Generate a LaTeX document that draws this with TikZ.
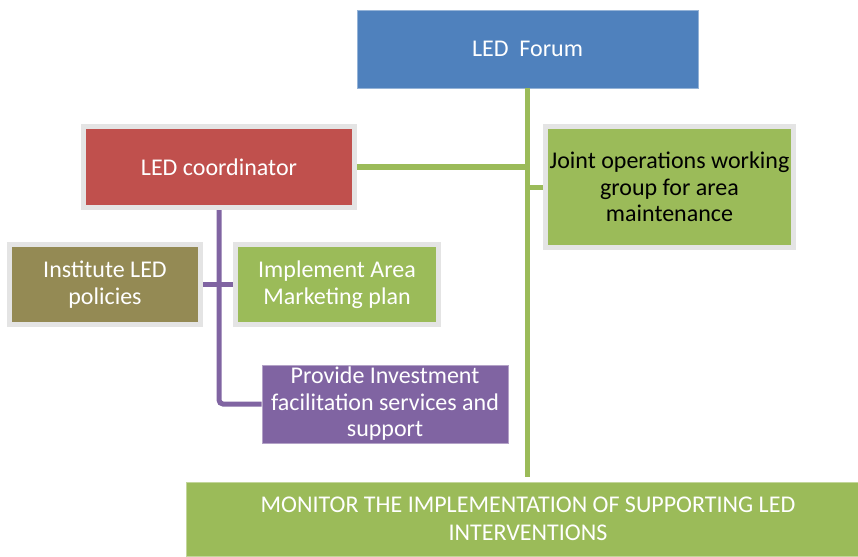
\documentclass[tikz,border=0pt]{standalone}
\usepackage{fontspec}
\setmainfont{Carlito}
\usepackage{tikz}
\usetikzlibrary{positioning}
\definecolor{ledblue}{HTML}{4F81BD}
\definecolor{ledred}{HTML}{C0504D}
\definecolor{ledgreen}{HTML}{9BBB59}
\definecolor{ledolive}{HTML}{948A54}
\definecolor{ledpurple}{HTML}{8064A2}
\definecolor{framegray}{HTML}{E4E4E4}
\begin{document}
\begin{tikzpicture}[x=1pt,y=-1pt,
 box/.style={fill=#1,draw=framegray,line width=5pt,align=center,
             text=white,inner sep=2pt,font=\fontsize{24}{26.5}\selectfont},
 plain/.style={fill=#1,draw=#1!60!white,line width=0.8pt,align=center,
             text=white,inner sep=2pt,font=\fontsize{24}{26.5}\selectfont},
 greenline/.style={draw=ledgreen,line width=5pt},
 purpleline/.style={draw=ledpurple,line width=5pt}]
 \useasboundingbox (0,0) rectangle (858,556);
 \node[plain=ledblue,minimum width=341pt,minimum height=78pt] (forum) at (527.5,49)
   {LED\ \ Forum};
 \node[box=ledred,minimum width=271pt,minimum height=81pt] (coord) at (219,167)
   {LED coordinator};
 \node[box=ledgreen,text=black,minimum width=248pt,minimum height=121pt] (joint) at (669.5,187)
   {Joint operations working\\group for area\\maintenance};
 \node[box=ledolive,minimum width=191pt,minimum height=80pt] (policies) at (105,284.5)
   {Institute LED\\policies};
 \node[box=ledgreen,minimum width=203pt,minimum height=80pt] (marketing) at (337,284.5)
   {Implement Area\\Marketing plan};
 \node[plain=ledpurple,minimum width=246pt,minimum height=78pt] (invest) at (385,404)
   {Provide Investment\\facilitation services and\\support};
 \node[plain=ledgreen,minimum width=684pt,minimum height=74pt,
       font=\fontsize{24}{28}\selectfont] (monitor) at (528,519)
   {MONITOR THE IMPLEMENTATION OF SUPPORTING LED\\INTERVENTIONS};
 % green links
 \draw[greenline,shorten >=5pt] (forum.south) -- (forum.south |- monitor.north);
 \draw[greenline] (coord.east) -- (coord.east -| forum.south);
 \draw[greenline] (joint.west) -- (joint.west -| forum.south);
 % purple links
 \draw[purpleline,rounded corners=4pt] (coord.south) -- (invest.west -| coord.south) -- (invest.west);
 \draw[purpleline] (policies.east) -- (marketing.west);
\end{tikzpicture}
\end{document}
